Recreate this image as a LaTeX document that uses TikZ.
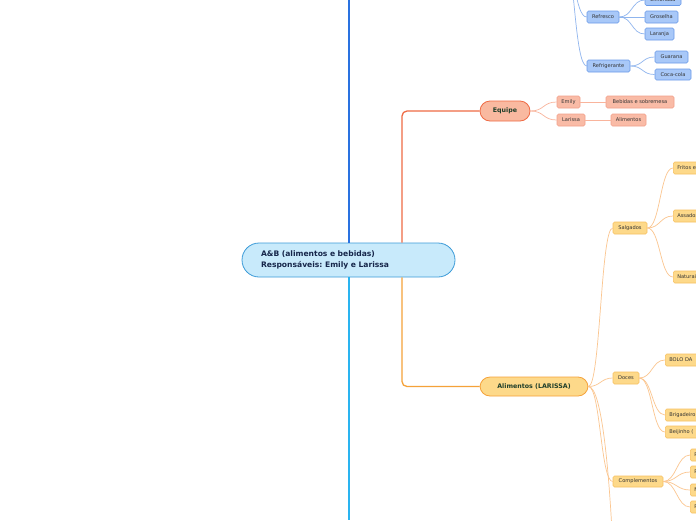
\documentclass[tikz,border=0pt]{standalone}
\usepackage{fontspec}
\setmainfont{DejaVu Sans}
\frenchspacing
\definecolor{bfill}{HTML}{A8C8F8}
\definecolor{bdraw}{HTML}{6A9AE8}
\definecolor{bline}{HTML}{8FB5EE}
\definecolor{rfill}{HTML}{F9BBA6}
\definecolor{rdraw}{HTML}{F2A08A}
\definecolor{rline}{HTML}{F9B49C}
\definecolor{efill}{HTML}{F9B9A0}
\definecolor{edraw}{HTML}{EF6B45}
\definecolor{ofill}{HTML}{FDD98A}
\definecolor{odraw}{HTML}{F7C060}
\definecolor{oline}{HTML}{FBC690}
\definecolor{adraw}{HTML}{F5A23A}
\definecolor{cfill}{HTML}{C8EAFB}
\definecolor{cdraw}{HTML}{3C9BD8}
\definecolor{vblue}{HTML}{2A72E0}
\definecolor{lblue}{HTML}{2AB4F0}
\definecolor{txt}{HTML}{333333}
\definecolor{dgreen}{HTML}{1E3E2A}
\definecolor{navy}{HTML}{16264A}
\tikzset{
  leaf/.style={draw, rounded corners=1.5pt, inner sep=0pt, minimum height=12pt,
    font=\fontsize{5.1}{6}\selectfont, text=txt, line width=0.6pt},
  bleaf/.style={leaf, fill=bfill, draw=bdraw},
  rleaf/.style={leaf, fill=rfill, draw=rdraw},
  oleaf/.style={leaf, fill=ofill, draw=odraw},
  cutleaf/.style={anchor=west, align=left, text width=60pt, inner xsep=4pt},
  pill/.style={draw, line width=0.8pt, minimum height=20pt, rounded corners=10pt,
    inner sep=0pt, font=\fontsize{6.3}{7}\selectfont\bfseries, text=dgreen},
  bl/.style={draw=bline, line width=0.7pt},
  rl/.style={draw=rline, line width=0.7pt},
  ol/.style={draw=oline, line width=0.7pt},
}
\begin{document}
\begin{tikzpicture}[x=1pt,y=-1pt]
\useasboundingbox (0,0) rectangle (696,520);
\clip (0,0) rectangle (696,520);
\fill[white] (0,0) rectangle (696,520);

% centre
\node[draw=cdraw, fill=cfill, line width=0.8pt, rounded corners=17pt,
  minimum width=213pt, minimum height=34pt, text width=175pt, align=left,
  inner xsep=19pt, inner ysep=0pt,
  font=\fontsize{7.6}{11}\selectfont\bfseries, text=navy] (center) at (348.5,260)
  {A\&B (alimentos e bebidas)\\Responsáveis: Emily e Larissa};

\coordinate (topend) at (349,0);
\coordinate (botend) at (349,520);
\coordinate (bx) at (402,0);

\draw[vblue, line width=1.3pt] (topend) -- (topend |- center.north);
\draw[lblue, line width=1.3pt] (center.south -| botend) -- (botend);

% Equipe
\node[pill, fill=efill, draw=edraw, minimum width=50pt] (equipe) at (505,111) {Equipe};
\draw[edraw, line width=1.3pt, rounded corners=5pt] (center.north -| bx) |- (equipe.west);

\node[rleaf, minimum width=23pt] (emily) at (568.5,102) {Emily};
\node[rleaf, minimum width=28pt] (larissa) at (571,120) {Larissa};
\node[rleaf, minimum width=68pt] (bebsob) at (640,102) {Bebidas e sobremesa};
\node[rleaf, minimum width=35pt] (alimL) at (628.5,120) {Alimentos};
\draw[rl] (equipe.east) .. controls +(14,0) and +(-14,0) .. (emily.west);
\draw[rl] (equipe.east) .. controls +(14,0) and +(-14,0) .. (larissa.west);
\draw[rl] (emily.east) -- (bebsob.west);
\draw[rl] (larissa.east) -- (alimL.west);

% Alimentos
\node[pill, fill=ofill, draw=adraw, minimum width=108pt, minimum height=19pt] (alim) at (534,386.5) {Alimentos (LARISSA)};
\draw[adraw, line width=1.3pt, rounded corners=5pt] (center.south -| bx) |- (alim.west);

\node[oleaf, minimum width=34pt] (salg) at (630,228) {Salgados};
\node[oleaf, minimum width=26pt] (doces) at (626,378) {Doces};
\node[oleaf, minimum width=50pt, minimum height=11pt] (compl) at (638,481.5) {Complementos};
\coordinate (alimnext) at (615,600);
\draw[ol] (alim.east) .. controls +(12,0) and +(-12,0) .. (salg.west);
\draw[ol] (alim.east) .. controls +(12,0) and +(-12,0) .. (doces.west);
\draw[ol] (alim.east) .. controls +(12,0) and +(-12,0) .. (compl.west);
\draw[ol] (alim.east) .. controls +(14,0) and +(-4,-120) .. (alimnext);

\node[oleaf, cutleaf] (fritos) at (673,168) {Fritos e};
\node[oleaf, cutleaf] (assado) at (673,216) {Assados};
\node[oleaf, cutleaf] (natura) at (673,277) {Naturais};
\draw[ol] (salg.east) .. controls +(13,0) and +(-13,0) .. (fritos.west);
\draw[ol] (salg.east) .. controls +(13,0) and +(-13,0) .. (assado.west);
\draw[ol] (salg.east) .. controls +(13,0) and +(-13,0) .. (natura.west);

\node[oleaf, cutleaf] (bolo) at (665,360) {BOLO DA};
\node[oleaf, cutleaf] (brig) at (665,415) {Brigadeiro};
\node[oleaf, cutleaf] (beij) at (665,432) {Beijinho (};
\draw[ol] (doces.east) .. controls +(13,0) and +(-13,0) .. (bolo.west);
\draw[ol] (doces.east) .. controls +(13,0) and +(-13,0) .. (brig.west);
\draw[ol] (doces.east) .. controls +(13,0) and +(-13,0) .. (beij.west);

\node[oleaf, cutleaf] (c1) at (690,455) {P};
\node[oleaf, cutleaf] (c2) at (690,472) {P};
\node[oleaf, cutleaf] (c3) at (690,490) {M};
\node[oleaf, cutleaf] (c4) at (690,507) {P};
\foreach \c in {c1,c2,c3,c4}
  \draw[ol] (compl.east) .. controls +(13,0) and +(-13,0) .. (\c.west);

% Bebidas (top)
\coordinate (bebtop) at (566,-40);
\node[bleaf, minimum width=32pt] (refresco) at (603,17) {Refresco};
\node[bleaf, minimum width=43pt] (refri) at (608.5,66) {Refrigerante};
\draw[bl] (bebtop) .. controls +(8,0) and +(-12,0) .. (refresco.west);
\draw[bl] (bebtop) .. controls +(8,0) and +(-12,0) .. (refri.west);

\node[bleaf, minimum width=36pt, minimum height=11pt] (limo) at (663,0) {Limonada};
\node[bleaf, minimum width=33pt] (gros) at (661.5,17) {Groselha};
\node[bleaf, minimum width=29pt] (lara) at (659.5,34) {Laranja};
\draw[bl] (refresco.east) .. controls +(13,0) and +(-13,0) .. (limo.west);
\draw[bl] (refresco.east) .. controls +(13,0) and +(-13,0) .. (gros.west);
\draw[bl] (refresco.east) .. controls +(13,0) and +(-13,0) .. (lara.west);

\node[bleaf, minimum width=33pt] (guar) at (671.5,57) {Guarana};
\node[bleaf, minimum width=36pt, minimum height=11pt] (coca) at (673,74.5) {Coca-cola};
\draw[bl] (refri.east) .. controls +(13,0) and +(-13,0) .. (guar.west);
\draw[bl] (refri.east) .. controls +(13,0) and +(-13,0) .. (coca.west);
\end{tikzpicture}
\end{document}
